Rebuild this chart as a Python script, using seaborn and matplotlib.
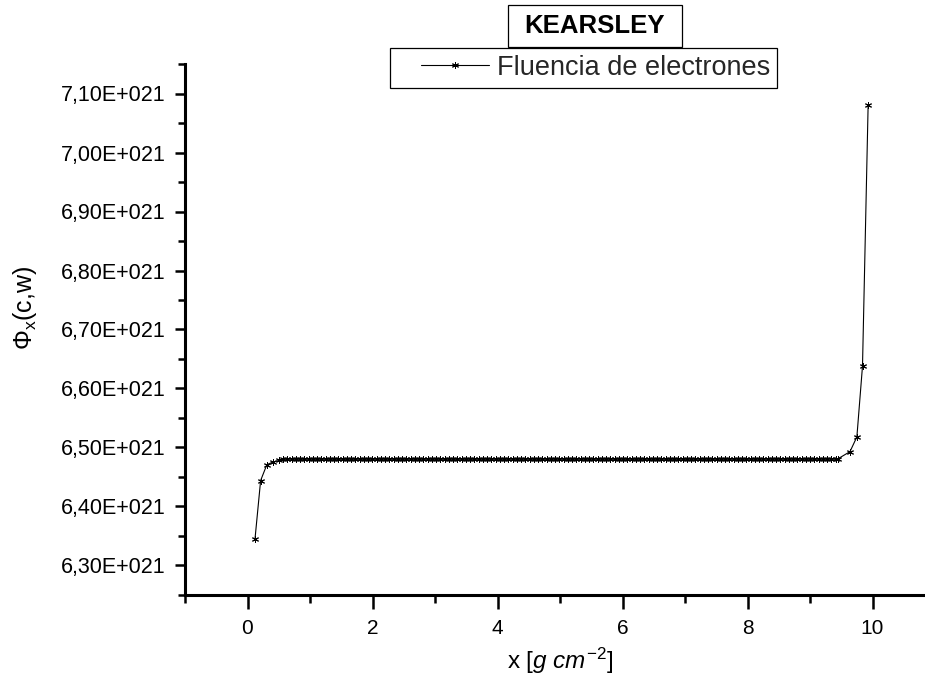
import numpy as np
import pandas as pd
import matplotlib
matplotlib.use("Agg")
import matplotlib.pyplot as plt
import matplotlib.ticker as mticker
from matplotlib.patches import Rectangle
from matplotlib.legend_handler import HandlerLine2D
import seaborn as sns

# Data, fluence in units of 1e21
x_rise = [0.12, 0.21, 0.31, 0.40, 0.50]
y_rise = [6.345, 6.444, 6.471, 6.475, 6.478]
x_plateau = np.round(np.arange(0.57, 9.42, 0.068), 3)
plateau_level = 6.480
x_tail = [9.45, 9.64, 9.75, 9.84, 9.93]
y_tail = [6.481, 6.493, 6.518, 6.638, 7.080]

series_label = "Fluencia de electrones"
title_text = "KEARSLEY"
y_ticks = [6.30, 6.40, 6.50, 6.60, 6.70, 6.80, 6.90, 7.00, 7.10]
x_ticks = [0, 2, 4, 6, 8, 10]

x_all = np.concatenate([x_rise, x_plateau, x_tail])
y_all = np.concatenate([y_rise, np.full(len(x_plateau), plateau_level), y_tail]) * 1e21
df = pd.DataFrame({"x": x_all, "phi": y_all})

sns.set_theme(style="ticks")
plt.rcParams["font.family"] = ["Liberation Sans", "DejaVu Sans"]
plt.rcParams["mathtext.fontset"] = "custom"
plt.rcParams["mathtext.rm"] = "Liberation Sans"
plt.rcParams["mathtext.it"] = "Liberation Sans:italic"

W, H = 925, 684
fig = plt.figure(figsize=(W / 100, H / 100), dpi=100)
# axes from px 185..935 horizontally, 64..595 vertically
ax = fig.add_axes([185 / W, 1 - 595 / H, 750 / W, 531 / H])

sns.lineplot(data=df, x="x", y="phi", ax=ax, color="black", linewidth=0.8,
             marker=(6, 2, 0), markersize=5, markeredgewidth=0.7,
             markeredgecolor="black", label=series_label, legend=False)

ax.set_xlim(-1, 11)
ax.set_ylim(6.25e21, 7.15e21)

ax.set_xticks(x_ticks)
ax.xaxis.set_minor_locator(mticker.MultipleLocator(1))
ax.set_yticks([v * 1e21 for v in y_ticks])
ax.yaxis.set_minor_locator(mticker.MultipleLocator(0.05e21))
ax.yaxis.set_major_formatter(mticker.FuncFormatter(
    lambda v, p: f"{v / 1e21:.2f}".replace(".", ",") + "E+021"))

for side in ["top", "right"]:
    ax.spines[side].set_visible(False)
for side in ["left", "bottom"]:
    ax.spines[side].set_linewidth(2.2)
    ax.spines[side].set_color("black")

ax.tick_params(axis="x", which="major", length=10, width=1.8, direction="out",
               labelsize=15, pad=7, colors="black")
ax.tick_params(axis="x", which="minor", length=6, width=1.8, direction="out", colors="black")
ax.tick_params(axis="y", which="major", length=7, width=1.8, direction="out",
               labelsize=15.5, pad=7, colors="black")
ax.tick_params(axis="y", which="minor", length=5, width=1.8, direction="out", colors="black")

ax.set_xlabel(r"x [$g$ $cm^{-2}$]", fontsize=17.5, color="black")
ax.xaxis.set_label_coords(0.5, -0.095)
ax.set_ylabel(r"$\Phi_{\mathrm{x}}$(c,w)", fontsize=18, color="black")
ax.yaxis.set_label_coords(-0.195, 0.54)

# legend box
fs = 19.5
handles, labels = ax.get_legend_handles_labels()
leg = ax.legend(handles, labels, loc="upper left",
                bbox_to_anchor=(390 / W, 1 - 48 / H), bbox_transform=fig.transFigure,
                fontsize=fs, frameon=True, fancybox=False, borderpad=0.25,
                handlelength=3.4, handletextpad=0.3, borderaxespad=0,
                numpoints=1, handler_map={handles[0]: HandlerLine2D(xpad=0.9)})
leg.get_frame().set_edgecolor("black")
leg.get_frame().set_linewidth(0.9)
leg.get_frame().set_alpha(1)

# title box
fig.add_artist(Rectangle((508 / W, 1 - 47 / H), 174 / W, 42 / H,
                         transform=fig.transFigure, fill=False,
                         edgecolor="black", linewidth=0.9))
fig.text(595 / W, 1 - 26 / H, title_text, ha="center", va="center",
         fontsize=18.5, fontweight="bold", color="black")

fig.savefig("out.png", dpi=100)
